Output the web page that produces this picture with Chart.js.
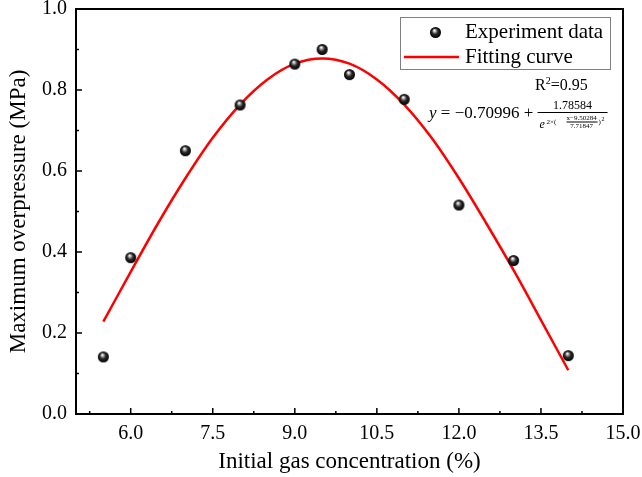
<!DOCTYPE html>
<html>
<head>
<meta charset="utf-8">
<script src="https://cdn.jsdelivr.net/npm/chart.js@4.4.1/dist/chart.umd.min.js"></script>
<style>
  html, body { margin: 0; padding: 0; background: #fff; }
  #wrap { width: 642px; height: 477px; }
</style>
</head>
<body>
<div id="wrap"><canvas id="chart" width="642" height="477"></canvas></div>
<script>
// experiment points
const concentration = [5.5, 6.0, 7.0, 8.0, 9.0, 9.5, 10.0, 11.0, 12.0, 13.0, 14.0];
const overpressure = [0.141, 0.386, 0.650, 0.763, 0.864, 0.900, 0.838, 0.777, 0.516, 0.379, 0.144];

// fitting curve
const fitX = [5.5, 6.0, 6.5, 7.0, 7.5, 8.0, 8.5, 9.0, 9.5, 10.0, 10.5, 11.0, 11.5, 12.0, 12.5, 13.0, 13.5, 14.0];
const fitY = [0.228, 0.351, 0.471, 0.582, 0.682, 0.764, 0.826, 0.865, 0.878, 0.865, 0.826, 0.764, 0.682, 0.582, 0.471, 0.355, 0.232, 0.108];

const xTicks = [6.0, 7.5, 9.0, 10.5, 12.0, 13.5, 15.0];
const xMinorTicks = [5.25, 6.75, 8.25, 9.75, 11.25, 12.75, 14.25];
const yTicks = [0.0, 0.2, 0.4, 0.6, 0.8, 1.0];
const yMinorTicks = [0.1, 0.3, 0.5, 0.7, 0.9];

const serif = '"Liberation Serif", "Times New Roman", serif';

function makeSphere(r) {
  const c = document.createElement('canvas');
  c.width = c.height = Math.ceil(r * 2 + 2);
  const g = c.getContext('2d');
  const cx = c.width / 2, cy = c.height / 2;
  const grad = g.createRadialGradient(cx - r * 0.2, cy - r * 0.4, r * 0.08, cx, cy, r);
  grad.addColorStop(0, '#ffffff');
  grad.addColorStop(0.22, '#9c9c9c');
  grad.addColorStop(0.5, '#2a2a2a');
  grad.addColorStop(1, '#000000');
  g.fillStyle = grad;
  g.beginPath();
  g.arc(cx, cy, r, 0, Math.PI * 2);
  g.fill();
  return c;
}
const sphere = makeSphere(5.5);

// frame + inward ticks like Origin
const framePlugin = {
  id: 'frame',
  afterDraw(chart) {
    const { ctx, chartArea: a, scales } = chart;
    ctx.save();
    ctx.strokeStyle = '#000';
    ctx.lineWidth = 1.5;
    ctx.beginPath();
    xTicks.forEach(v => { const p = scales.x.getPixelForValue(v); ctx.moveTo(p, a.bottom); ctx.lineTo(p, a.bottom - 6); });
    xMinorTicks.forEach(v => { const p = scales.x.getPixelForValue(v); ctx.moveTo(p, a.bottom); ctx.lineTo(p, a.bottom - 3); });
    yTicks.forEach(v => { const p = scales.y.getPixelForValue(v); ctx.moveTo(a.left, p); ctx.lineTo(a.left + 6, p); });
    yMinorTicks.forEach(v => { const p = scales.y.getPixelForValue(v); ctx.moveTo(a.left, p); ctx.lineTo(a.left + 3, p); });
    ctx.stroke();
    ctx.lineWidth = 2;
    ctx.strokeRect(a.left, a.top, a.right - a.left, a.bottom - a.top);
    ctx.restore();
  }
};

// boxed legend + fit equation in the top right corner
const legendPlugin = {
  id: 'boxLegend',
  afterDraw(chart) {
    const { ctx, chartArea: a } = chart;
    const ds = chart.data.datasets;
    const bx = a.right - 223, by = a.top + 8;
    ctx.save();
    ctx.fillStyle = '#fff';
    ctx.fillRect(bx, by, 210, 52);
    ctx.strokeStyle = '#7f7f7f';
    ctx.lineWidth = 1;
    ctx.strokeRect(bx + 0.5, by + 0.5, 210, 52);

    ctx.drawImage(sphere, bx + 29, by + 9);
    ctx.strokeStyle = ds[1].borderColor;
    ctx.lineWidth = 2.5;
    ctx.beginPath();
    ctx.moveTo(bx + 4, by + 40);
    ctx.lineTo(bx + 59, by + 40);
    ctx.stroke();

    ctx.fillStyle = '#000';
    ctx.font = '21px ' + serif;
    ctx.textBaseline = 'middle';
    ctx.fillText(ds[0].label, bx + 65, by + 15);
    ctx.fillText(ds[1].label, bx + 65, by + 40);

    // R^2
    ctx.textBaseline = 'alphabetic';
    ctx.font = '16px ' + serif;
    let x = a.right - 88, y = a.top + 81;
    ctx.fillText('R', x, y); x += ctx.measureText('R').width;
    ctx.font = '10px ' + serif;
    ctx.fillText('2', x, y - 6); x += ctx.measureText('2').width;
    ctx.font = '16px ' + serif;
    ctx.fillText('=0.95', x, y);

    // equation
    y = a.top + 109;
    x = a.right - 194;
    ctx.font = 'italic 17px ' + serif;
    ctx.fillText('y', x, y); x += ctx.measureText('y').width;
    ctx.font = '17px ' + serif;
    ctx.fillText(' = \u22120.70996 + ', x, y); x += ctx.measureText(' = \u22120.70996 + ').width;
    const fx = x, fw = 70;
    ctx.lineWidth = 1;
    ctx.strokeStyle = '#000';
    ctx.beginPath();
    ctx.moveTo(fx, y - 5.5);
    ctx.lineTo(fx + fw, y - 5.5);
    ctx.stroke();
    ctx.font = '12px ' + serif;
    ctx.textAlign = 'center';
    ctx.fillText('1.78584', fx + fw / 2, y - 9);
    ctx.textAlign = 'left';
    ctx.font = 'italic 12px ' + serif;
    ctx.fillText('e', fx + 2, y + 10);
    ctx.font = '7px ' + serif;
    ctx.fillText('2\u00d7(', fx + 9, y + 6);
    ctx.textAlign = 'center';
    ctx.fillText('x\u22129.50284', fx + 44, y + 2);
    ctx.fillText('7.71847', fx + 44, y + 10);
    ctx.beginPath();
    ctx.moveTo(fx + 29, y + 4);
    ctx.lineTo(fx + 60, y + 4);
    ctx.stroke();
    ctx.textAlign = 'left';
    ctx.fillText(')', fx + 61, y + 6);
    ctx.font = '6px ' + serif;
    ctx.fillText('2', fx + 64, y + 3);
    ctx.restore();
  }
};

new Chart(document.getElementById('chart'), {
  type: 'scatter',
  data: {
    datasets: [
      {
        label: 'Experiment data',
        data: concentration.map((x, i) => ({ x: x, y: overpressure[i] })),
        pointStyle: sphere,
        pointRadius: 5.5,
        pointHoverRadius: 5.5
      },
      {
        label: 'Fitting curve',
        data: fitX.map((x, i) => ({ x: x, y: fitY[i] })),
        showLine: true,
        borderColor: '#ff0000',
        borderWidth: 2.5,
        pointRadius: 0,
        cubicInterpolationMode: 'monotone'
      }
    ]
  },
  options: {
    responsive: false,
    animation: false,
    devicePixelRatio: 1,
    layout: { padding: { left: 0, top: 9, right: 19, bottom: 0 } },
    plugins: {
      legend: { display: false },
      tooltip: { enabled: false }
    },
    scales: {
      x: {
        type: 'linear',
        min: 5,
        max: 15,
        afterBuildTicks: s => { s.ticks = xTicks.map(v => ({ value: v })); },
        afterFit: s => { s.height = 63; s.paddingLeft = 0; s.paddingRight = 0; },
        grid: { display: false, drawTicks: false },
        border: { display: false },
        ticks: {
          autoSkip: false,
          maxRotation: 0,
          padding: 8,
          color: '#000',
          font: { family: serif, size: 20 },
          callback: v => Number(v).toFixed(1)
        },
        title: {
          display: true,
          text: 'Initial gas concentration (%)',
          color: '#000',
          font: { family: serif, size: 23 },
          padding: { top: 0, bottom: 1 }
        }
      },
      y: {
        min: 0,
        max: 1,
        afterBuildTicks: s => { s.ticks = yTicks.map(v => ({ value: v })); },
        afterFit: s => { s.width = 76; s.paddingTop = 0; s.paddingBottom = 0; },
        grid: { display: false, drawTicks: false },
        border: { display: false },
        ticks: {
          padding: 9,
          color: '#000',
          font: { family: serif, size: 20 },
          callback: v => Number(v).toFixed(1)
        },
        title: {
          display: true,
          text: 'Maximum overpressure (MPa)',
          color: '#000',
          font: { family: serif, size: 23 },
          padding: { top: 5, bottom: 0 }
        }
      }
    }
  },
  plugins: [framePlugin, legendPlugin]
});
</script>
</body>
</html>
